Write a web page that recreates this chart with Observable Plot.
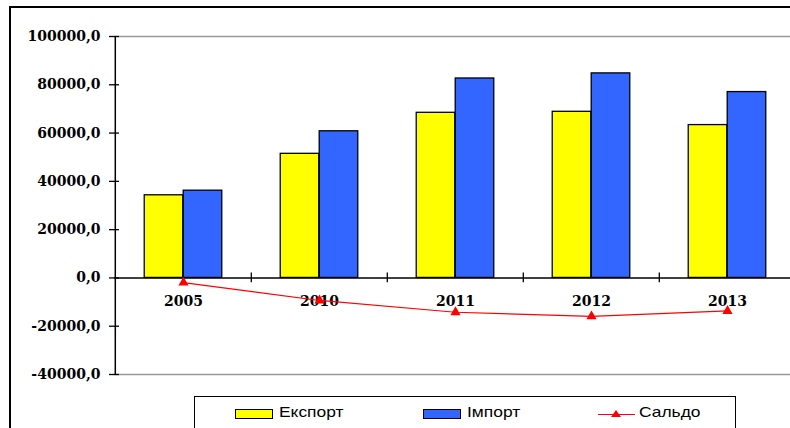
<!DOCTYPE html>
<html>
<head>
<meta charset="utf-8">
<script src="https://cdn.jsdelivr.net/npm/d3@7"></script>
<script src="https://cdn.jsdelivr.net/npm/@observablehq/plot@0.6"></script>
<style>
  html, body { margin: 0; padding: 0; background: #fff; }
  #wrap { position: relative; width: 790px; height: 428px; overflow: hidden; background: #fff; }
  #frame { position: absolute; left: 9px; top: 6px; width: 900px; height: 600px; border: 2px solid #000; box-sizing: border-box; }
  #chart { position: absolute; left: 0; top: 0; width: 800px; }
  #chart svg { max-width: none !important; }
  #legend { position: absolute; left: 194px; top: 396px; width: 542px; height: 80px; border: 1.5px solid #000; box-sizing: border-box; background: #fff; }
  .sw { position: absolute; top: 12px; width: 36px; height: 8px; border: 1.5px solid #000; }
  .lt { position: absolute; top: 6px; font-family: "Liberation Sans", Arial, sans-serif; font-size: 14.5px; line-height: 18px; color: #000; transform: scaleX(1.2); transform-origin: 0 0; white-space: nowrap; }
</style>
</head>
<body>
<div id="wrap">
  <div id="frame"></div>
  <div id="chart"></div>
  <div id="legend"></div>
</div>
<script>
const years = ["2005", "2010", "2011", "2012", "2013"];
const exportVals = [34228.4, 51405.2, 68394.2, 68809.8, 63312.0];
const importVals = [36136.3, 60742.2, 82608.2, 84717.6, 76986.8];
const saldoVals = [-1907.9, -9337.0, -14214.0, -15907.8, -13674.8];
const yTicks = [-40000, -20000, 0, 20000, 40000, 60000, 80000, 100000];
const seriesNames = ["Експорт", "Імпорт", "Сальдо"];
const seriesColors = ["#FFFF00", "#3366FF", "#FF0000"];

const rows = years.map((y, i) => ({year: y, exp: exportVals[i], imp: importVals[i], saldo: saldoVals[i]}));

const W = 798, H = 390, ML = 114, MR = 2, MT = 36, MB = 16;
const step = (W - ML - MR) / years.length;
const bw = step / 3.5;
const gap = step * 0.75 / 3.5;
const fmt = d => d.toFixed(1).replace(".", ",");

const chart = Plot.plot({
  width: W, height: H,
  marginLeft: ML, marginRight: MR, marginTop: MT, marginBottom: MB,
  style: {fontFamily: "'DejaVu Serif', serif", fontSize: "14px", fontWeight: "bold", color: "#000", background: "transparent", overflow: "visible", maxWidth: "none"},
  x: {domain: years, padding: 0, axis: null},
  y: {domain: [-40000, 100000], axis: null},
  marks: [
    Plot.ruleY([yTicks[yTicks.length - 1], yTicks[0]], {stroke: "#999", strokeWidth: 1.5}),
    Plot.barY(rows, {x: "year", y: "exp", fill: seriesColors[0], stroke: "#000", strokeWidth: 1.3, insetLeft: gap, insetRight: step - gap - bw}),
    Plot.barY(rows, {x: "year", y: "imp", fill: seriesColors[1], stroke: "#000", strokeWidth: 1.3, insetLeft: gap + bw, insetRight: gap}),
    Plot.ruleY([0], {stroke: "#000", strokeWidth: 1.5}),
    Plot.ruleX(years.slice(1), {dx: -step / 2, y1: -2000, y2: 2000, stroke: "#000", strokeWidth: 1.3}),
    Plot.ruleX([years[0]], {dx: -step / 2, y1: yTicks[0], y2: yTicks[yTicks.length - 1], stroke: "#000", strokeWidth: 1.5}),
    Plot.axisY({ticks: yTicks, tickSize: 10, dx: 5, tickFormat: () => "", strokeWidth: 1.3}),
    Plot.axisY({ticks: yTicks, tickSize: 0, tickPadding: 14, tickFormat: fmt, fontSize: 14, fontWeight: "bold"}),
    Plot.text(rows, {x: "year", y: 0, dy: 24, text: "year", fontSize: 14, fontWeight: "bold"}),
    Plot.lineY(rows, {x: "year", y: "saldo", stroke: seriesColors[2], strokeWidth: 1.2}),
    Plot.dot(rows, {x: "year", y: "saldo", symbol: "triangle", r: 3.8, fill: seriesColors[2], stroke: "none"})
  ]
});
document.getElementById("chart").appendChild(chart);

// Legend
const legend = document.getElementById("legend");
const lgX = [{sw: 40, tx: 84}, {sw: 228, tx: 272}, {sw: 403, tx: 444}];
seriesNames.forEach((name, i) => {
  if (i < 2) {
    const sw = document.createElement("div");
    sw.className = "sw";
    sw.style.left = lgX[i].sw + "px";
    sw.style.background = seriesColors[i];
    legend.appendChild(sw);
  } else {
    const ns = "http://www.w3.org/2000/svg";
    const s = document.createElementNS(ns, "svg");
    s.setAttribute("width", 40); s.setAttribute("height", 14);
    s.style.position = "absolute"; s.style.left = lgX[i].sw + "px"; s.style.top = "10px";
    const l = document.createElementNS(ns, "line");
    l.setAttribute("x1", 0); l.setAttribute("x2", 37); l.setAttribute("y1", 7.5); l.setAttribute("y2", 7.5);
    l.setAttribute("stroke", seriesColors[i]); l.setAttribute("stroke-width", 1.2);
    s.appendChild(l);
    const p = document.createElementNS(ns, "path");
    p.setAttribute("d", "M18,3 L23,10 L13,10 Z");
    p.setAttribute("fill", seriesColors[i]);
    s.appendChild(p);
    legend.appendChild(s);
  }
  const t = document.createElement("div");
  t.className = "lt";
  t.style.left = lgX[i].tx + "px";
  t.textContent = name;
  legend.appendChild(t);
});
</script>
</body>
</html>
